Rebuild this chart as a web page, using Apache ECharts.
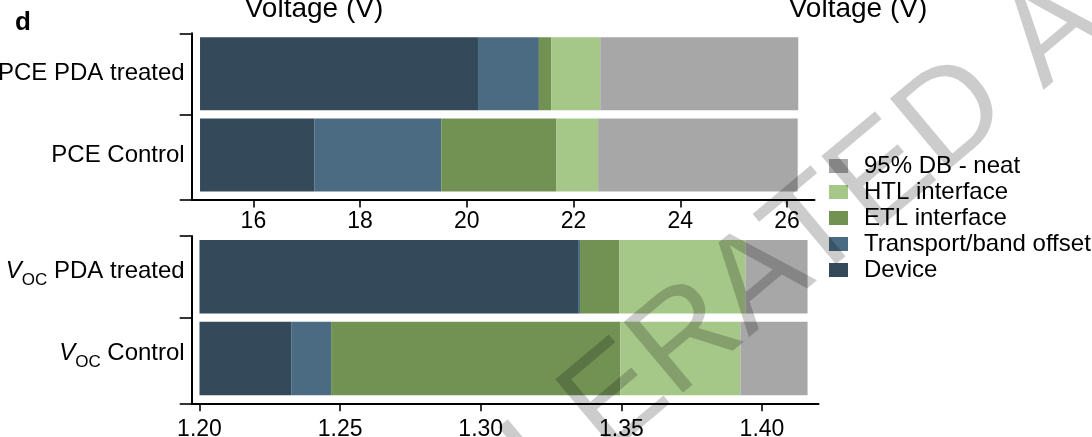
<!DOCTYPE html>
<html>
<head>
<meta charset="utf-8">
<script src="https://cdn.jsdelivr.net/npm/echarts@6/dist/echarts.min.js"></script>
<style>
  html, body { margin: 0; padding: 0; background: #ffffff; }
  #chart { width: 1092px; height: 437px; }
</style>
</head>
<body>
<div id="chart"></div>
<script>
// Loss breakdown: each row lists the cumulative voltage reached at the right edge
// of every segment, in the order of segmentNames.
const segmentNames = ['Device', 'Transport/band offset', 'ETL interface', 'HTL interface', '95% DB - neat'];
const segmentColors = ['#344a5b', '#4a6b82', '#729254', '#a5c788', '#a7a7a7'];

// Upper panel: PCE-equivalent voltage
const pceRows = ['PCE Control', 'PCE PDA treated'];
const pceStart = 15;
const pceControl = [17.14, 19.52, 21.68, 22.46, 26.20];
const pcePDA = [20.21, 21.35, 21.58, 22.50, 26.21];
const pceTicks = [16, 18, 20, 22, 24, 26];

// Lower panel: open-circuit voltage
const vocRows = ['Control', 'PDA treated'];
const vocStart = 1.20;
const vocControl = [1.2326, 1.2468, 1.3496, 1.3923, 1.4162];
const vocPDA = [1.3346, 1.3353, 1.3493, 1.3941, 1.4162];
const vocTicks = [1.20, 1.25, 1.30, 1.35, 1.40];

const FONT = "'Liberation Sans', Arial, Helvetica, sans-serif";
const BAR_H = 0.9;           // bar thickness in row units
const ROW_MIN = -0.55, ROW_MAX = 1.5;

// one rectangle per [start, end, row]
function renderSegment(params, api) {
  const row = api.value(2);
  const a = api.coord([api.value(0), row]);
  const b = api.coord([api.value(1), row]);
  const h = api.size([0, BAR_H])[1];
  return {
    type: 'rect',
    shape: { x: a[0], y: a[1] - h / 2, width: b[0] - a[0], height: h },
    style: { fill: api.visual('color') }
  };
}

function segmentData(start, rows, k) {
  return rows.map((r, i) => [k === 0 ? start : r[k - 1], r[k], i]);
}

const series = [];
[[pceStart, [pceControl, pcePDA]], [vocStart, [vocControl, vocPDA]]].forEach(([start, rows], p) => {
  segmentNames.forEach((name, k) => {
    series.push({
      type: 'custom',
      name: name,
      xAxisIndex: p,
      yAxisIndex: p,
      renderItem: renderSegment,
      encode: { x: [0, 1], y: 2 },
      itemStyle: { color: segmentColors[k] },
      data: segmentData(start, rows, k),
      silent: true
    });
  });
});

const axisLine = { show: true, onZero: false, lineStyle: { color: '#000', width: 2 } };

function xAxisDef(grid, min, max, ticks, fmt, margin) {
  return {
    gridIndex: grid, type: 'value', min: min, max: max,
    axisLine: axisLine,
    axisTick: { show: true, length: 8, customValues: ticks, lineStyle: { color: '#000', width: 1.6 } },
    axisLabel: { customValues: ticks, formatter: fmt, margin: margin, fontSize: 23, color: '#000', fontFamily: FONT },
    splitLine: { show: false }
  };
}

function yAxisDef(grid, labelFmt) {
  return {
    gridIndex: grid, type: 'value', min: ROW_MIN, max: ROW_MAX,
    axisLine: axisLine,
    axisTick: { show: true, length: 12, customValues: [ROW_MIN, 0.5, ROW_MAX], lineStyle: { color: '#000', width: 1.6 } },
    axisLabel: { customValues: [0, 1], formatter: labelFmt, margin: 7, fontSize: 24, color: '#000', fontFamily: FONT },
    splitLine: { show: false }
  };
}

const vocLabel = yAxisDef(1, v => '{v|V}{s|OC} ' + vocRows[Math.round(v)]);
vocLabel.axisLabel.padding = [0, 0, 10, 0];
vocLabel.axisLabel.rich = {
  v: { fontSize: 24, fontStyle: 'italic', fontFamily: FONT, color: '#000' },
  s: { fontSize: 17, fontFamily: FONT, color: '#000', padding: [18, 0, 0, 0], lineHeight: 24 }
};

const option = {
  backgroundColor: '#ffffff',
  animation: false,
  grid: [
    { left: 191.7, top: 33.3, width: 622.8, height: 166.2, outerBoundsMode: 'none', containLabel: false },
    { left: 191.7, top: 236, width: 626.8, height: 167.3, outerBoundsMode: 'none', containLabel: false }
  ],
  xAxis: [
    xAxisDef(0, 14.844, 26.515, pceTicks, v => String(v), 11),
    xAxisDef(1, 1.19723, 1.42009, vocTicks, v => Number(v).toFixed(2), 15)
  ],
  yAxis: [
    yAxisDef(0, v => pceRows[Math.round(v)]),
    vocLabel
  ],
  legend: {
    data: segmentNames.slice().reverse(),
    orient: 'vertical',
    left: 824,
    top: 148,
    itemGap: 0,
    itemWidth: 30,
    itemHeight: 14,
    icon: 'path://M0,0h19v14h-19z M30,7 L30,7',
    selectedMode: false,
    textStyle: { fontSize: 24, lineHeight: 26, color: '#000', fontFamily: FONT }
  },
  graphic: [
    { type: 'text', x: 15, y: 23, style: { text: 'd', font: "bold 26px " + FONT, fill: '#000', textAlign: 'left', textVerticalAlign: 'middle' } },
    { type: 'text', x: 314, y: 9.3, style: { text: 'Voltage (V)', font: "28px " + FONT, fill: '#000', textAlign: 'center', textVerticalAlign: 'middle' } },
    { type: 'text', x: 858, y: 9.3, style: { text: 'Voltage (V)', font: "28px " + FONT, fill: '#000', textAlign: 'center', textVerticalAlign: 'middle' } },
    {
      type: 'text', x: 240, y: 716, rotation: 40 * Math.PI / 180, z: 100, silent: true,
      style: { text: 'ACCELERATED ARTICLE PREVIEW', font: "134px " + FONT, fill: 'rgba(0,0,0,0.2)', textAlign: 'left', textVerticalAlign: 'middle' }
    }
  ],
  series: series
};

const chart = echarts.init(document.getElementById('chart'), null, { renderer: 'canvas' });
chart.setOption(option);
</script>
</body>
</html>
